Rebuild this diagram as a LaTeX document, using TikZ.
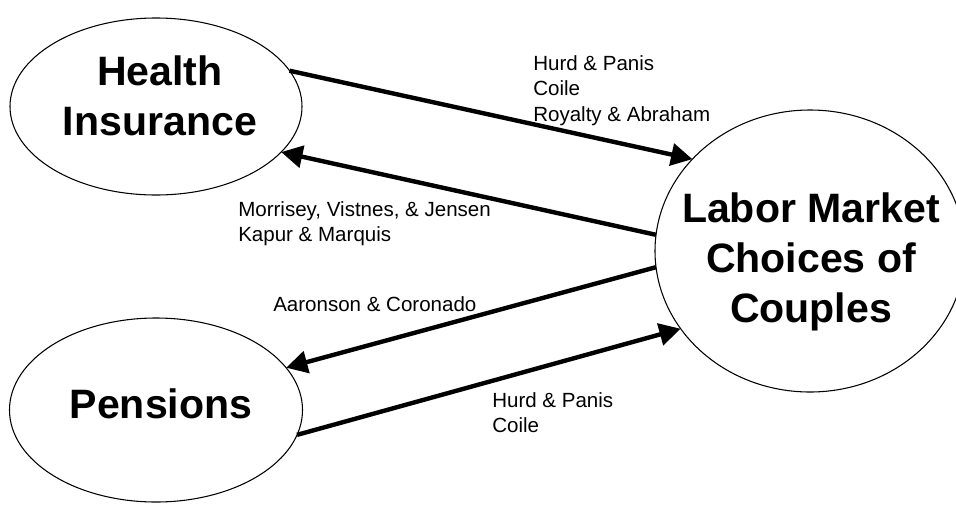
\documentclass[tikz,border=0pt]{standalone}
\usepackage{fontspec}
\setmainfont{Liberation Sans}
\usetikzlibrary{shapes.geometric,arrows.meta}
\begin{document}
\begin{tikzpicture}[x=0.75pt,y=-0.75pt,
  oval/.style={ellipse,draw,line width=0.8pt,inner sep=0pt,outer sep=0pt},
  bigtext/.style={font=\bfseries\fontsize{30.8}{37.7}\selectfont,align=center,inner sep=0pt,anchor=north},
  cite/.style={font=\fontsize{15.4}{19.1}\selectfont,align=left,inner sep=0pt,anchor=north west},
  link/.style={line width=3.3pt,-{Triangle[length=16pt,width=16.5pt]}}]
\useasboundingbox (0,0) rectangle (956,504);
\node[oval,minimum width=219pt,minimum height=132.75pt] (hi) at (156,106.5) {};
\node[oval,minimum width=219.75pt,minimum height=138pt] (pe) at (156,410) {};
\node[oval,minimum width=232.5pt,minimum height=211.5pt] (lm) at (810,251) {};
\node[bigtext] (hiText) at (160,55) {Health\\Insurance};
\node[bigtext] (peText) at (161,388) {Pensions};
\node[bigtext] (lmText) at (811,192) {Labor Market\\Choices of\\Couples};
\draw[link] (hi.15) -- (lm.142);
\draw[link] (lm.174) -- (hi.-20);
\draw[link] (lm.186) -- (pe.18);
\draw[link] (pe.-10) -- (lm.211);
\node[cite] (c1) at (533,55) {Hurd \& Panis\\Coile\\Royalty \& Abraham};
\node[cite] (c2) at (238,201) {Morrisey, Vistnes, \& Jensen\\Kapur \& Marquis};
\node[cite] (c3) at (273,296) {Aaronson \& Coronado};
\node[cite] (c4) at (492,392) {Hurd \& Panis\\Coile};
\end{tikzpicture}
\end{document}
